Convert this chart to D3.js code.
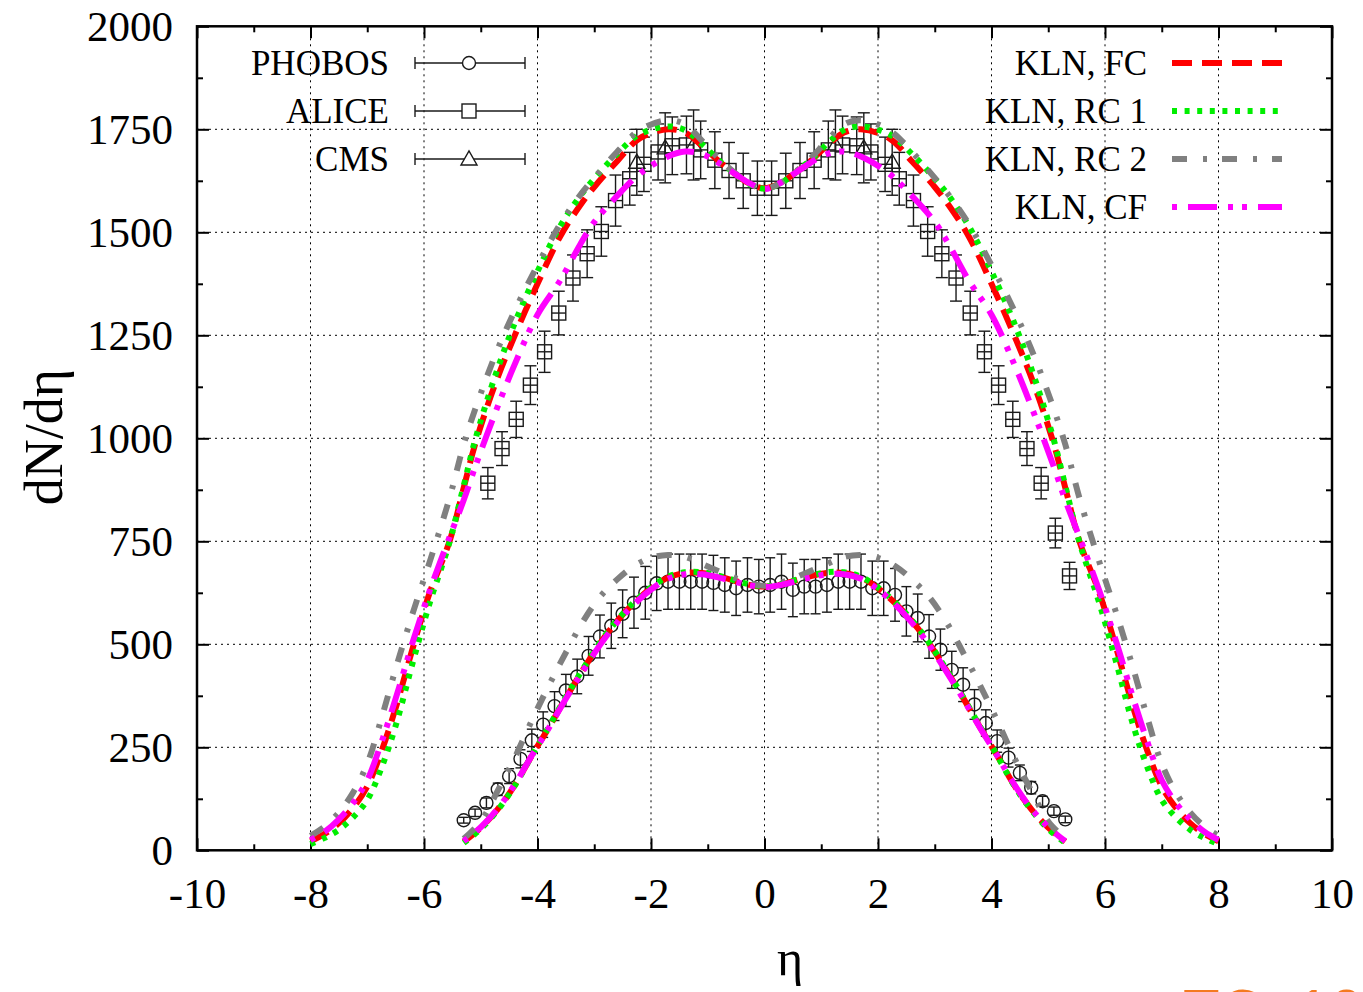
<!DOCTYPE html>
<html>
<head>
<meta charset="utf-8">
<script src="https://cdnjs.cloudflare.com/ajax/libs/d3/7.8.5/d3.min.js"></script>
<style>
  body { margin: 0; background: #fff; }
  svg { display: block; font-family: "Liberation Serif", "Times New Roman", serif; }
</style>
</head>
<body>
<svg width="1363" height="992"></svg>
<script>
// ---- data ----

// PHOBOS (RHIC, lower points)
var phobosEta = [-5.3,-5.1,-4.9,-4.7,-4.5,-4.3,-4.1,-3.9,-3.7,-3.5,-3.3,-3.1,-2.9,-2.7,-2.5,-2.3,-2.1,-1.9,-1.7,-1.5,-1.3,-1.1,-0.9,-0.7,-0.5,-0.3,-0.1,
                 0.1,0.3,0.5,0.7,0.9,1.1,1.3,1.5,1.7,1.9,2.1,2.3,2.5,2.7,2.9,3.1,3.3,3.5,3.7,3.9,4.1,4.3,4.5,4.7,4.9,5.1,5.3];
var phobosVal = [73,91,115,148,180,222,267,305,350,388,422,472,519,545,574,601,625,648,652,652,652,652,649,644,636,644,640,
                 644,652,632,640,640,644,652,652,652,636,636,620,580,564,519,487,438,402,354,309,265,225,188,152,119,95,75];
var phobosErr = [7,9,12,15,18,22,27,31,35,39,42,47,52,55,58,62,64,66,67,67,67,67,67,66,66,66,66,
                 66,67,65,66,66,66,67,67,67,66,66,64,60,58,53,50,45,41,36,32,27,23,19,15,12,10,8];

// ALICE (LHC, squares)
var aliceEta = [-4.875,-4.625,-4.375,-4.125,-3.875,-3.625,-3.375,-3.125,-2.875,-2.625,-2.375,-2.125,-1.875,-1.625,-1.375,-1.125,-0.875,-0.625,-0.375,-0.125,
                0.125,0.375,0.625,0.875,1.125,1.375,1.625,1.875,2.125,2.375,2.625,2.875,3.125,3.375,3.625,3.875,4.125,4.375,4.625,4.875,5.125,5.375];
var aliceVal = [891,975,1046,1129,1210,1304,1389,1448,1502,1577,1630,1665,1695,1710,1712,1700,1675,1650,1625,1607,
                1607,1625,1650,1675,1700,1712,1710,1695,1665,1630,1577,1502,1448,1389,1304,1210,1129,1046,975,891,770,666];
var aliceErr = [38,41,44,47,50,53,56,58,60,62,64,66,68,70,70,70,69,68,67,66,
                66,67,68,69,70,70,70,68,66,64,62,60,58,56,53,50,47,44,41,38,36,33];

// CMS (LHC, triangles)
var cmsEta = [-2.25,-1.75,-1.25,1.25,1.75,2.25];
var cmsVal = [1670,1705,1712,1712,1705,1670];
var cmsErr = [80,85,85,85,85,80];

// KLN model curves, LHC energy
var lhcEta = [-8,-7.75,-7.5,-7.25,-7,-6.75,-6.5,-6.2,-5.9,-5.55,-5.3,-5.1,-4.75,-4.4,-4,-3.6,-3.25,-3,-2.6,-2.2,-1.7,-1.4,-1.1,-0.8,-0.5,-0.25,0,
              0.25,0.5,0.8,1.1,1.4,1.7,2.2,2.6,3,3.25,3.6,4,4.4,4.75,5.1,5.3,5.55,5.9,6.2,6.5,6.75,7,7.25,7.5,7.75,8];
var fcLhc  = [22,40,66,103,155,240,345,490,625,750,880,985,1130,1250,1375,1490,1565,1610,1672,1728,1750,1742,1710,1672,1640,1617,1607,
              1617,1640,1672,1710,1742,1750,1728,1672,1610,1565,1490,1375,1250,1130,985,880,750,625,490,345,240,155,103,66,40,22];
var rc1Lhc = [15,30,50,80,122,200,302,455,600,748,885,995,1150,1280,1405,1515,1588,1630,1690,1738,1757,1748,1714,1674,1640,1616,1606,
              1616,1640,1674,1714,1748,1757,1738,1690,1630,1588,1515,1405,1280,1150,995,885,748,600,455,302,200,122,80,50,30,15];
var rc2Lhc = [35,58,92,140,210,320,440,575,700,855,985,1070,1200,1310,1420,1520,1590,1632,1695,1748,1772,1762,1722,1678,1642,1617,1606,
              1617,1642,1678,1722,1762,1772,1748,1695,1632,1590,1520,1420,1310,1200,1070,985,855,700,575,440,320,210,140,92,58,35];
var cfLhc  = [25,45,75,115,170,262,368,505,630,760,850,930,1060,1180,1300,1383,1470,1525,1588,1642,1684,1696,1690,1668,1640,1618,1605,
              1618,1640,1668,1690,1696,1684,1642,1588,1525,1470,1383,1300,1180,1060,930,850,760,630,505,368,262,170,115,75,45,25];

// KLN model curves, RHIC energy
var rhicEta = [-5.3,-5,-4.7,-4.4,-4.1,-3.8,-3.5,-3.2,-2.9,-2.6,-2.3,-2,-1.7,-1.4,-1.1,-0.8,-0.5,-0.25,0,
               0.25,0.5,0.8,1.1,1.4,1.7,2,2.3,2.6,2.9,3.2,3.5,3.8,4.1,4.4,4.7,5,5.3];
var fcRhic  = [21,55,100,158,230,298,370,438,502,556,600,636,662,673,673,665,653,644,640,
               644,653,665,673,673,662,636,600,556,502,438,370,298,230,158,100,55,21];
var rc1Rhic = [18,52,98,157,230,300,372,440,504,558,602,638,664,675,675,666,654,645,641,
               645,654,666,675,675,664,638,602,558,504,440,372,300,230,157,98,52,18];
var rc2Rhic = [28,70,145,225,315,400,480,555,615,657,690,710,717,712,695,677,660,648,642,
               648,660,677,695,712,717,710,690,657,615,555,480,400,315,225,145,70,28];
var cfRhic  = [22,56,101,160,230,297,368,435,498,552,597,633,659,670,670,662,651,643,639,
               643,651,662,670,670,659,633,597,552,498,435,368,297,230,160,101,56,22];

var xTicks = [-10,-8,-6,-4,-2,0,2,4,6,8,10];
var yTicks = [0,250,500,750,1000,1250,1500,1750,2000];
var dataNames = ["PHOBOS","ALICE","CMS"];
var modelNames = ["KLN, FC","KLN, RC 1","KLN, RC 2","KLN, CF"];

// ---- drawing ----
var svg = d3.select("svg"),
    width = +svg.attr("width"),
    height = +svg.attr("height");

var x = d3.scaleLinear().domain([-10, 10]).range([197, 1332]);
var y = d3.scaleLinear().domain([0, 2000]).range([850.3, 26.3]);

var styles = [
  { color: "#ff0000", dash: "20,10", offset: 0 },
  { color: "#00ee00", dash: "5,7.6", offset: 0 },
  { color: "#808080", dash: "15,16,4,15", offset: 0 },
  { color: "#ff00ff", dash: "29,11,5,9,5,11", offset: 54 }
];

// grid
var grid = svg.append("g").attr("stroke", "#000").attr("stroke-width", 1).attr("stroke-dasharray", "2,4");
grid.selectAll(".gx").data(xTicks.slice(1, -1)).enter().append("line")
    .attr("x1", d => x(d)).attr("x2", d => x(d)).attr("y1", y(0)).attr("y2", y(2000));
grid.selectAll(".gy").data(yTicks.slice(1, -1)).enter().append("line")
    .attr("x1", x(-10)).attr("x2", x(10)).attr("y1", d => y(d)).attr("y2", d => y(d));

// axes: inward ticks on all four sides
function styleAxis(g) {
  g.select(".domain").remove();
  g.selectAll(".tick line").attr("stroke", "#000").attr("stroke-width", 2);
  g.selectAll("text").attr("font-size", 43).attr("fill", "#000")
   .attr("font-family", "Liberation Serif, Times New Roman, serif");
}
var xMinor = d3.range(-9, 10, 2);
var yMinor = d3.range(125, 2000, 250);
var plain = d => String(d);   // hyphen minus, as in the original

svg.append("g").attr("transform", "translate(0," + y(0) + ")")
   .call(d3.axisBottom(x).tickValues(xTicks).tickSizeInner(-12).tickSizeOuter(0).tickPadding(27).tickFormat(plain))
   .call(styleAxis);
svg.append("g").attr("transform", "translate(0," + y(0) + ")")
   .call(d3.axisBottom(x).tickValues(xMinor).tickSizeInner(-6).tickSizeOuter(0).tickFormat(""))
   .call(styleAxis);
svg.append("g").attr("transform", "translate(0," + y(2000) + ")")
   .call(d3.axisTop(x).tickValues(xTicks).tickSizeInner(-12).tickSizeOuter(0).tickFormat(""))
   .call(styleAxis);
svg.append("g").attr("transform", "translate(0," + y(2000) + ")")
   .call(d3.axisTop(x).tickValues(xMinor).tickSizeInner(-6).tickSizeOuter(0).tickFormat(""))
   .call(styleAxis);
svg.append("g").attr("transform", "translate(" + x(-10) + ",0)")
   .call(d3.axisLeft(y).tickValues(yTicks).tickSizeInner(-12).tickSizeOuter(0).tickPadding(24).tickFormat(plain))
   .call(styleAxis);
svg.append("g").attr("transform", "translate(" + x(-10) + ",0)")
   .call(d3.axisLeft(y).tickValues(yMinor).tickSizeInner(-6).tickSizeOuter(0).tickFormat(""))
   .call(styleAxis);
svg.append("g").attr("transform", "translate(" + x(10) + ",0)")
   .call(d3.axisRight(y).tickValues(yTicks).tickSizeInner(-12).tickSizeOuter(0).tickFormat(""))
   .call(styleAxis);
svg.append("g").attr("transform", "translate(" + x(10) + ",0)")
   .call(d3.axisRight(y).tickValues(yMinor).tickSizeInner(-6).tickSizeOuter(0).tickFormat(""))
   .call(styleAxis);

// frame
svg.append("rect")
   .attr("x", x(-10)).attr("y", y(2000))
   .attr("width", x(10) - x(-10)).attr("height", y(0) - y(2000))
   .attr("fill", "none").attr("stroke", "#000").attr("stroke-width", 2.5);

// data points with error bars
function errorBars(etas, vals, errs, cap) {
  var g = svg.append("g").attr("stroke", "#1a1a1a").attr("stroke-width", 1.4).attr("fill", "none");
  var pts = etas.map((e, i) => ({ x: e, v: vals[i], e: errs[i] }));
  var s = g.selectAll("g").data(pts).enter().append("g");
  s.append("line").attr("x1", d => x(d.x)).attr("x2", d => x(d.x))
   .attr("y1", d => y(d.v - d.e)).attr("y2", d => y(d.v + d.e));
  s.append("line").attr("x1", d => x(d.x) - cap).attr("x2", d => x(d.x) + cap)
   .attr("y1", d => y(d.v - d.e)).attr("y2", d => y(d.v - d.e));
  s.append("line").attr("x1", d => x(d.x) - cap).attr("x2", d => x(d.x) + cap)
   .attr("y1", d => y(d.v + d.e)).attr("y2", d => y(d.v + d.e));
  return s;
}

var ph = errorBars(phobosEta, phobosVal, phobosErr, 5);
ph.append("circle").attr("cx", d => x(d.x)).attr("cy", d => y(d.v)).attr("r", 6.5);

var al = errorBars(aliceEta, aliceVal, aliceErr, 6);
al.append("rect").attr("x", d => x(d.x) - 7).attr("y", d => y(d.v) - 7).attr("width", 14).attr("height", 14);
al.append("line").attr("x1", d => x(d.x) - 7).attr("x2", d => x(d.x) + 7)
  .attr("y1", d => y(d.v)).attr("y2", d => y(d.v));

var cm = errorBars(cmsEta, cmsVal, cmsErr, 6);
cm.append("path").attr("d", function(d) {
  var px = x(d.x), py = y(d.v);
  return "M" + (px - 8) + "," + (py + 6) + "L" + (px + 8) + "," + (py + 6) + "L" + px + "," + (py - 8) + "Z";
});

// model curves
var line = d3.line().curve(d3.curveCatmullRom.alpha(0.5));
var lhcSeries = [fcLhc, rc1Lhc, rc2Lhc, cfLhc];
var rhicSeries = [fcRhic, rc1Rhic, rc2Rhic, cfRhic];
styles.forEach(function(st, k) {
  [[lhcEta, lhcSeries[k]], [rhicEta, rhicSeries[k]]].forEach(function(pair) {
    svg.append("path")
       .attr("d", line(pair[0].map((e, i) => [x(e), y(pair[1][i])])))
       .attr("fill", "none").attr("stroke", st.color).attr("stroke-width", 6)
       .attr("stroke-dasharray", st.dash).attr("stroke-dashoffset", st.offset);
  });
});

// legends
var legL = svg.append("g");
var legRows = [63, 111, 159];
dataNames.forEach(function(name, i) {
  var cy = legRows[i];
  legL.append("text").attr("x", 389).attr("y", cy).attr("dy", "0.35em")
      .attr("text-anchor", "end").attr("font-size", 35).text(name);
  var g = legL.append("g").attr("stroke", "#1a1a1a").attr("stroke-width", 1.4).attr("fill", "none");
  g.append("line").attr("x1", 415).attr("x2", 525).attr("y1", cy).attr("y2", cy);
  g.append("line").attr("x1", 415).attr("x2", 415).attr("y1", cy - 6).attr("y2", cy + 6);
  g.append("line").attr("x1", 525).attr("x2", 525).attr("y1", cy - 6).attr("y2", cy + 6);
  if (i === 0) g.append("circle").attr("cx", 469).attr("cy", cy).attr("r", 6.5).attr("fill", "#fff");
  if (i === 1) g.append("rect").attr("x", 462).attr("y", cy - 7).attr("width", 14).attr("height", 14).attr("fill", "#fff");
  if (i === 2) g.append("path").attr("fill", "#fff")
      .attr("d", "M461," + (cy + 6) + "L477," + (cy + 6) + "L469," + (cy - 8) + "Z");
});

var legR = svg.append("g");
var legRowsR = [63, 111, 159, 207];
modelNames.forEach(function(name, i) {
  var cy = legRowsR[i];
  legR.append("text").attr("x", 1147).attr("y", cy).attr("dy", "0.35em")
      .attr("text-anchor", "end").attr("font-size", 35).text(name);
  legR.append("line").attr("x1", 1172).attr("x2", 1282).attr("y1", cy).attr("y2", cy)
      .attr("stroke", styles[i].color).attr("stroke-width", 6)
      .attr("stroke-dasharray", styles[i].dash).attr("stroke-dashoffset", styles[i].offset);
});

// axis titles
svg.append("text").attr("transform", "translate(62,437) rotate(-90)")
   .attr("text-anchor", "middle").attr("font-size", 54).text("dN/dη");
svg.append("text").attr("x", 790).attr("y", 975)
   .attr("text-anchor", "middle").attr("font-size", 50).text("η");

// orange caption cut off by the bottom edge in the original
svg.append("text").attr("x", 1183).attr("y", 1031)
   .attr("font-family", "Liberation Sans, Arial, sans-serif").attr("font-size", 60)
   .attr("fill", "#f47a20").text("TC, 10");
</script>
</body>
</html>
